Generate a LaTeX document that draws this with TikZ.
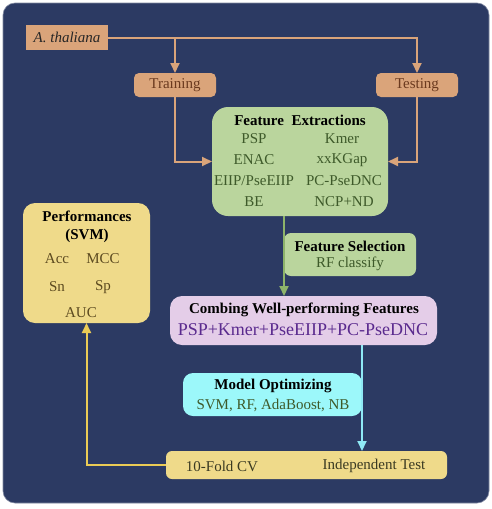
\documentclass[tikz,border=0pt]{standalone}
\usepackage{fontspec}
\setmainfont{Liberation Serif}
\usetikzlibrary{arrows.meta}
\definecolor{navy}{HTML}{2C3A63}
\definecolor{tan}{HTML}{DAA47A}
\definecolor{tantext}{HTML}{6B3A1F}
\definecolor{feg}{HTML}{BAD59D}
\definecolor{fegline}{HTML}{8DB36A}
\definecolor{fetext}{HTML}{3E5A2A}
\definecolor{lav}{HTML}{E4CDE8}
\definecolor{purp}{HTML}{5A2A8E}
\definecolor{cyanbox}{HTML}{9CF8FA}
\definecolor{cyanline}{HTML}{8FE9F5}
\definecolor{yel}{HTML}{EFDA8A}
\definecolor{yelline}{HTML}{EBCB55}
\definecolor{yeltext}{HTML}{5C4A20}
\definecolor{dtext}{HTML}{3A3A22}
\begin{document}
\begin{tikzpicture}[x=1pt,y=-1pt,
  box/.style={draw=none,inner sep=0pt,outer sep=0pt},
  txt/.style={inner sep=0pt,font=\fontsize{15}{18}\selectfont},
  btxt/.style={inner sep=0pt,font=\fontsize{15}{18}\selectfont\bfseries,text=black},
  tanline/.style={draw=tan,line width=2pt,-{Triangle[width=9pt,length=10pt]}},
]
\useasboundingbox (0,0) rectangle (492,509);
\fill[white] (0,0) rectangle (492,509);
\fill[navy,draw=navy!60!white,line width=0.6pt,rounded corners=12pt] (3,3) rectangle (489,503);

% boxes
\node[box,fill=tan,minimum width=82pt,minimum height=25pt] (ath) at (67,37.5) {};
\node[box,fill=tan,rounded corners=5pt,minimum width=82pt,minimum height=24pt] (train) at (175,85) {};
\node[box,fill=tan,rounded corners=5pt,minimum width=82pt,minimum height=24pt] (test) at (417,85) {};
\node[box,fill=feg,rounded corners=16pt,minimum width=176pt,minimum height=109pt] (fe) at (300,161.5) {};
\node[box,fill=feg,rounded corners=7pt,minimum width=132pt,minimum height=43pt] (fs) at (350,254.5) {};
\node[box,fill=lav,rounded corners=12pt,minimum width=267pt,minimum height=49pt] (comb) at (303.5,320.5) {};
\node[box,fill=cyanbox,rounded corners=10pt,minimum width=179pt,minimum height=43pt] (mo) at (272.5,394.5) {};
\node[box,fill=yel,rounded corners=6pt,minimum width=281pt,minimum height=28pt] (bot) at (306.5,465) {};
\node[box,fill=yel,rounded corners=12pt,minimum width=127pt,minimum height=120pt] (perf) at (86.5,263) {};

% texts
\node[txt,text=black!85] (tath) at (67,37.5) {\itshape A. thaliana};
\node[txt,text=tantext] (ttrain) at (175,85) {Training};
\node[txt,text=tantext] (ttest) at (417,85) {Testing};

\node[btxt] (tfe) at (300,120) {Feature\ \ Extractions};
\node[txt,text=fetext] (f1) at (254,139) {PSP};
\node[txt,text=fetext] (f2) at (342,139) {Kmer};
\node[txt,text=fetext] (f3) at (254,160) {ENAC};
\node[txt,text=fetext] (f4) at (342,160) {xxKGap};
\node[txt,text=fetext] (f5) at (254,181) {EIIP/PseEIIP};
\node[txt,text=fetext] (f6) at (344,181) {PC-PseDNC};
\node[txt,text=fetext] (f7) at (254,202) {BE};
\node[txt,text=fetext] (f8) at (344,202) {NCP+ND};

\node[btxt] (tfs) at (350,246) {Feature Selection};
\node[txt,text=fetext] (tfs2) at (350,264) {RF classify};

\node[btxt] (tcomb) at (304,310) {Combing Well-performing Features};
\node[inner sep=0pt,font=\fontsize{18}{21}\selectfont,text=purp] (tcomb2) at (303,329.5) {PSP+Kmer+PseEIIP+PC-PseDNC};

\node[btxt] (tmo) at (273,386) {Model Optimizing};
\node[txt,text=fetext] (tmo2) at (273,405) {SVM, RF, AdaBoost, NB};

\node[txt,text=dtext] (tcv) at (222,466) {10-Fold CV};
\node[txt,text=dtext] (tit) at (374,466) {Independent Test};

\node[btxt] (tp1) at (87,216) {Performances};
\node[btxt] (tp2) at (87,236) {(SVM)};
\node[txt,text=yeltext] (p1) at (57,259) {Acc};
\node[txt,text=yeltext] (p2) at (103,259) {MCC};
\node[txt,text=yeltext] (p3) at (57,287) {Sn};
\node[txt,text=yeltext] (p4) at (103,287) {Sp};
\node[txt,text=yeltext] (p5) at (81,313) {AUC};

% connectors
\coordinate (br) at (175,37.5);
\draw[tanline] (ath.east) -| (test.north);
\draw[tanline] (br) -- (train.north);
\draw[tanline] (train.south) |- (fe.west);
\draw[tanline] (test.south) |- (fe.east);
\draw[draw=fegline,line width=2pt,-{Triangle[width=9pt,length=10pt]}] (fe.south -| fs.west) -- (comb.north -| fs.west);
\draw[draw=cyanline,line width=2pt,-{Triangle[width=9pt,length=10pt]}] (comb.south -| mo.east) -- (bot.north -| mo.east);
\draw[draw=yelline,line width=2pt,-{Triangle[width=9pt,length=10pt]}] (bot.west) -| (perf.south);
\end{tikzpicture}
\end{document}
